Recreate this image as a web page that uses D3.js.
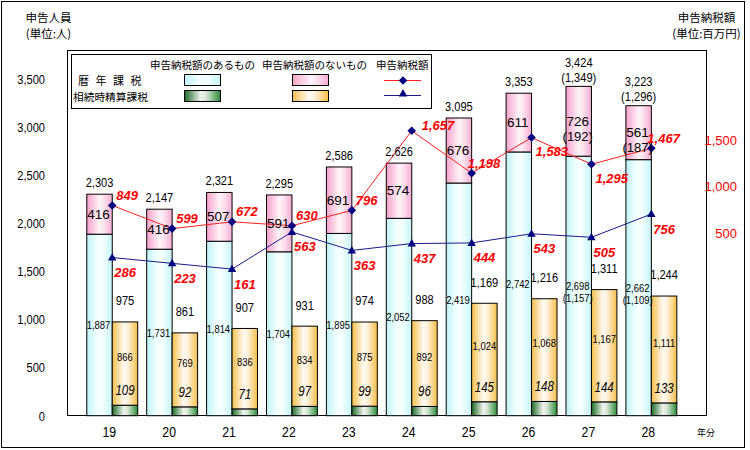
<!DOCTYPE html>
<html><head><meta charset="utf-8">
<script src="https://cdn.jsdelivr.net/npm/d3@7"></script>
<style>body{margin:0;background:#fff}svg{display:block}</style>
</head><body>
<svg id="c" width="750" height="450"></svg>
<script>
// ---------- data ----------
const years = ['19','20','21','22','23','24','25','26','27','28'];
// 暦年課税
const rekiTax   = [1887,1731,1814,1704,1895,2052,2419,2742,2698,2662];   // 申告納税額のあるもの
const rekiNoTax = [416,416,507,591,691,574,676,611,726,561];             // 申告納税額のないもの
const rekiTotal = [2303,2147,2321,2295,2586,2626,3095,3353,3424,3223];
const rekiTaxSub   = [null,null,null,null,null,null,null,null,1157,1109];
const rekiNoTaxSub = [null,null,null,null,null,null,null,null,192,187];
const rekiTotalSub = [null,null,null,null,null,null,null,null,1349,1296];
// 相続時精算課税
const seisanTax   = [109,92,71,97,99,96,145,148,144,133];
const seisanNoTax = [866,769,836,834,875,892,1024,1068,1167,1111];
const seisanTotal = [975,861,907,931,974,988,1169,1216,1311,1244];
// 申告納税額 (百万円)
const rekiAmount   = [849,599,672,630,796,1657,1198,1583,1295,1467];
const seisanAmount = [286,223,161,563,363,437,444,543,505,756];
const leftTicks  = [0,500,1000,1500,2000,2500,3000,3500];
const rightTicks = [500,1000,1500];
const rekiLabelPlace = ['ur','ur','ur','ur','ur','r','ul','dr','dr','ul'];

// ---------- setup ----------
const SANS = "'Liberation Sans',Arial,sans-serif";
const JP = "'Noto Sans CJK JP','Noto Sans CJK SC',sans-serif";
const NARROW_SX = 0.82;
const svg = d3.select('#c');

const x = d3.scaleBand().domain(years).range([82.3,681.3]).paddingInner(0.15).paddingOuter(0.075);
const xs = d3.scaleBand().domain(['reki','seisan']).range([0, x.bandwidth()]);
const y = d3.scaleLinear().domain([0,3800]).range([415.7,50.2]);
const y2 = d3.scaleLinear().domain([0,1500]).range([284,145.25]);

// gradients
const defs = svg.append('defs');
function grad(id, stops){
  const g = defs.append('linearGradient').attr('id',id).attr('x1',0).attr('x2',1).attr('y1',0).attr('y2',0);
  stops.forEach(s=>g.append('stop').attr('offset',s[0]).attr('stop-color',s[1]));
}
grad('gCyan',  [[0,'#bff2f5'],[0.4,'#f2ffff'],[0.6,'#f6ffff'],[1,'#c6f4f6']]);
grad('gPink',  [[0,'#f5a2ca'],[0.5,'#fff2f8'],[0.65,'#fde6f1'],[1,'#f5acd0']]);
grad('gGreen', [[0,'#1d6a27'],[0.45,'#eef3ee'],[0.6,'#d8e8d8'],[1,'#2b8a37']]);
grad('gOrange',[[0,'#f4bf4a'],[0.45,'#fff9f0'],[0.6,'#fff2df'],[1,'#f4bf48']]);

// outer frame
svg.append('rect').attr('x',1.5).attr('y',1.5).attr('width',743).attr('height',446)
  .attr('fill','#fff').attr('stroke','#000');

// plot frame
svg.append('rect').attr('x',67.5).attr('y',50.5).attr('width',639).attr('height',365)
  .attr('fill','#fff').attr('stroke','#000');

// ---------- bars ----------
const idx = d3.range(years.length);
const g = svg.append('g');
const lx = i => x(years[i]) + xs('reki');
const rx = i => x(years[i]) + xs('seisan');
const bw = xs.bandwidth();
function bar(xf, v0, v1, fill){
  g.selectAll(null).data(idx).join('rect')
    .attr('x', i=>xf(i)).attr('width', bw)
    .attr('y', i=>y(v1(i))).attr('height', i=>y(v0(i))-y(v1(i)))
    .attr('fill', fill).attr('stroke','#000').attr('stroke-width',1);
}
bar(lx, i=>0, i=>rekiTax[i], 'url(#gCyan)');
bar(lx, i=>rekiTax[i], i=>rekiTax[i]+rekiNoTax[i], 'url(#gPink)');
bar(rx, i=>0, i=>seisanTax[i], 'url(#gGreen)');
bar(rx, i=>seisanTax[i], i=>seisanTax[i]+seisanNoTax[i], 'url(#gOrange)');

// ---------- axes ----------
const ya = svg.append('g').attr('transform','translate(67,0)')
  .call(d3.axisLeft(y).tickValues(leftTicks).tickSize(0).tickFormat(d3.format(',')));
ya.select('.domain').remove();
ya.selectAll('text').attr('x', -22/NARROW_SX).attr('transform',`scale(${NARROW_SX},1)`)
  .attr('font-family',SANS).attr('font-size',13.5).attr('fill','#000');

const y2a = svg.append('g').attr('transform','translate(706,0)')
  .call(d3.axisRight(y2).tickValues(rightTicks).tickSize(0).tickFormat(d3.format(',')));
y2a.select('.domain').remove();
y2a.selectAll('text').attr('x',31).attr('text-anchor','end').attr('dy','-0.05em')
  .attr('font-family',SANS).attr('font-size',13).attr('fill','#ff0000');

const xa = svg.append('g').attr('transform','translate(0,416)')
  .call(d3.axisBottom(x).tickSize(0).tickPadding(10));
xa.select('.domain').remove();
xa.selectAll('text').attr('x', -3/NARROW_SX).attr('transform',`scale(${NARROW_SX},1)`)
  .attr('font-family',SANS).attr('font-size',15).attr('fill','#000');

// ---------- lines ----------
const px = i => x(years[i]) + bw;
const diamond = 'M0,-4.3L4.3,0L0,4.3L-4.3,0Z';
const triangle = 'M0,-4.5L4.2,3L-4.2,3Z';
svg.append('path').datum(idx)
  .attr('d', d3.line().x(i=>px(i)).y(i=>y2(rekiAmount[i])))
  .attr('fill','none').attr('stroke','#ff2020').attr('stroke-width',1);
svg.append('path').datum(idx)
  .attr('d', d3.line().x(i=>px(i)).y(i=>y2(seisanAmount[i])))
  .attr('fill','none').attr('stroke','#1a1a8c').attr('stroke-width',1);
svg.selectAll(null).data(idx).join('path')
  .attr('d',diamond).attr('transform',i=>`translate(${px(i)},${y2(rekiAmount[i])})`).attr('fill','#000080');
svg.selectAll(null).data(idx).join('path')
  .attr('d',triangle).attr('transform',i=>`translate(${px(i)},${y2(seisanAmount[i])})`).attr('fill','#000080');

// ---------- labels ----------
const fmt = d3.format(',');
function txt(xv, yv, s, opts={}){
  const sx = opts.narrow ? NARROW_SX : 1;
  return svg.append('text')
    .attr('transform', `translate(${xv},${yv}) scale(${sx},1)`)
    .text(s)
    .attr('text-anchor', opts.anchor || 'middle')
    .attr('dominant-baseline','central')
    .attr('font-family', opts.family || SANS)
    .attr('font-size', opts.size || 13)
    .attr('font-style', opts.style || 'normal')
    .attr('font-weight', opts.weight || 'normal')
    .attr('fill', opts.fill || '#000');
}
idx.forEach(i=>{
  const cl = lx(i) + bw/2, cr = rx(i) + bw/2;
  // left totals
  const top = y(rekiTax[i]+rekiNoTax[i]);
  if (rekiTotalSub[i] != null){
    txt(cl, top-24, fmt(rekiTotal[i]), {narrow:true, size:13.5});
    txt(cl, top-9, '(' + fmt(rekiTotalSub[i]) + ')', {narrow:true, size:13.5});
  } else {
    txt(cl, top-11.5, fmt(rekiTotal[i]), {narrow:true, size:13.5});
  }
  // pink segment
  const pc = (y(rekiTax[i]) + top)/2;
  txt(cl-1, pc, fmt(rekiNoTax[i]), {size:13.5});
  if (rekiNoTaxSub[i] != null) txt(cl-1, pc+15, '(' + fmt(rekiNoTaxSub[i]) + ')', {size:13});
  // cyan segment
  const cc = (y(0) + y(rekiTax[i]))/2;
  txt(cl-1, cc, fmt(rekiTax[i]), {narrow:true, size:11.5});
  if (rekiTaxSub[i] != null) txt(cl-1, cc+12, '(' + fmt(rekiTaxSub[i]) + ')', {narrow:true, size:11.5});
  // orange segment
  const otop = y(seisanTax[i]+seisanNoTax[i]);
  const oc = (y(seisanTax[i]) + otop)/2;
  txt(cr, oc-7, fmt(seisanNoTax[i]), {narrow:true, size:11.5});
  txt(cr, otop-21, fmt(seisanTotal[i]), {narrow:true, size:13.5});
  // green
  txt(cr, y(seisanTax[i])-15, fmt(seisanTax[i]), {narrow:true, style:'italic', size:14});
  // red labels (amount)
  const ry = y2(rekiAmount[i]);
  const off = {ur:[4,-10], r:[10,-5], ul:[-4,-10], dr:[4,14]}[rekiLabelPlace[i]];
  txt(px(i)+off[0], ry+off[1], fmt(rekiAmount[i]), {anchor:'start', weight:'bold', style:'italic', fill:'#ff0000', size:13});
  const by = y2(seisanAmount[i]);
  txt(px(i)+2, by+15, fmt(seisanAmount[i]), {anchor:'start', weight:'bold', style:'italic', fill:'#ff0000', size:13});
});

// ---------- titles ----------
txt(48.5, 16.5, '申告人員', {family:JP, size:11.5});
txt(48.5, 33, '(単位:人)', {family:JP, size:11.5});
txt(706.5, 16.5, '申告納税額', {family:JP, size:11.5});
txt(706.5, 33, '(単位:百万円)', {family:JP, size:11.5});
txt(706, 432, '年分', {family:JP, size:9});

// ---------- legend ----------
svg.append('rect').attr('x',71.5).attr('y',54.5).attr('width',360).attr('height',54)
  .attr('fill','#fff').attr('stroke','#000');
txt(150, 64, '申告納税額のあるもの', {family:JP, size:10.5, anchor:'start'});
txt(262, 64, '申告納税額のないもの', {family:JP, size:10.5, anchor:'start'});
txt(376, 64, '申告納税額', {family:JP, size:10.5, anchor:'start'});
txt(78, 80, '暦年課税', {family:JP, size:11, anchor:'start'}).attr('letter-spacing',6.5);
txt(73, 96, '相続時精算課税', {family:JP, size:10.7, anchor:'start'});
const sw = [['url(#gCyan)',184,74],['url(#gGreen)',184,90],['url(#gPink)',292,74],['url(#gOrange)',292,90]];
sw.forEach(s=>svg.append('rect').attr('x',s[1]+0.5).attr('y',s[2]+0.5).attr('width',36).attr('height',11)
  .attr('fill',s[0]).attr('stroke','#000'));
svg.append('line').attr('x1',384).attr('x2',421).attr('y1',80.5).attr('y2',80.5).attr('stroke','#ff2020');
svg.append('path').attr('d',diamond).attr('transform','translate(403,80.5)').attr('fill','#000080');
svg.append('line').attr('x1',384).attr('x2',421).attr('y1',95.5).attr('y2',95.5).attr('stroke','#1a1a8c');
svg.append('path').attr('d',triangle).attr('transform','translate(403,93.5)').attr('fill','#000080');
</script>
</body></html>
